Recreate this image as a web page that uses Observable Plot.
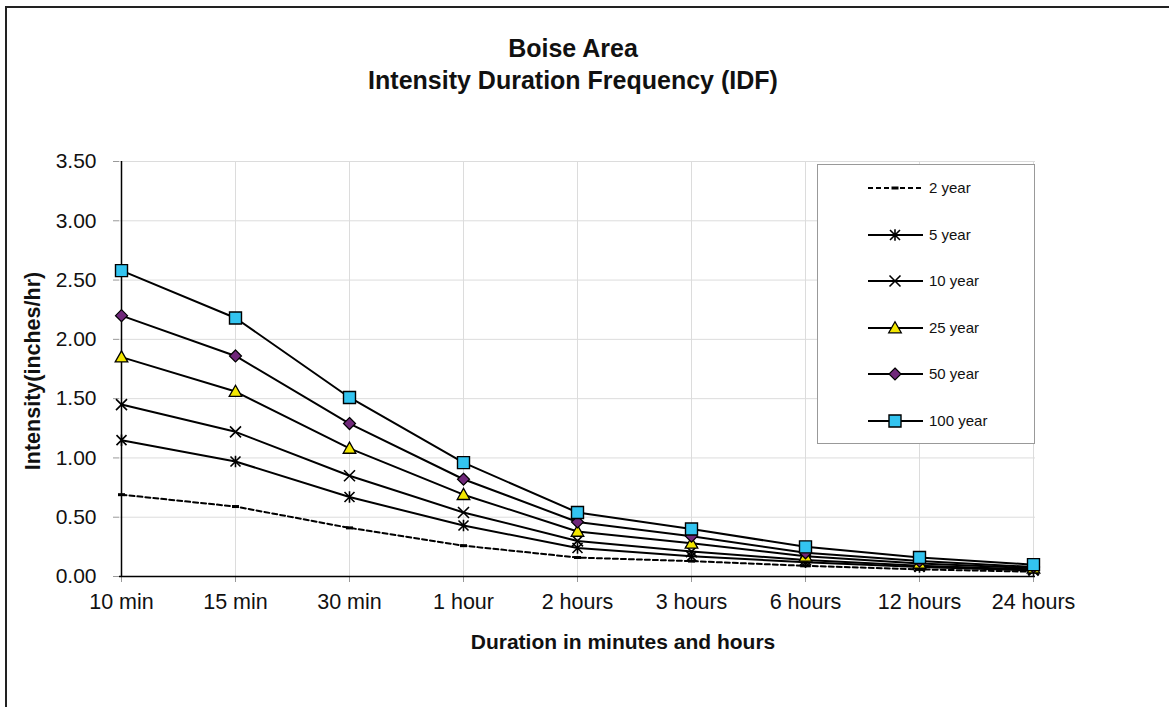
<!DOCTYPE html>
<html><head><meta charset="utf-8">
<script src="https://cdn.jsdelivr.net/npm/d3@7"></script>
<script src="https://cdn.jsdelivr.net/npm/@observablehq/plot@0.6"></script>
<style>
body{margin:0;background:#fff;font-family:"Liberation Sans",Arial,sans-serif;color:#111;}
#wrap{position:relative;width:1169px;height:707px;overflow:hidden;background:#fff;}
#frame{position:absolute;left:5px;top:6px;width:1200px;height:760px;border-top:2px solid #222;border-left:2px solid #222;}
#chart{position:absolute;left:0;top:0;}
.t{position:absolute;transform:translate(-50%,-50%);white-space:nowrap;font-weight:bold;}
#legend{position:absolute;left:817px;top:164px;width:216px;height:278px;border:1px solid #999;background:#fff;}
.lrow{position:absolute;left:0;width:216px;height:24px;}
.lrow svg{position:absolute;left:49px;top:0;}
.lrow span{position:absolute;left:111px;top:3px;font-size:15px;}
</style></head><body>
<div id="wrap">
  <div id="frame"></div>
  <div id="chart"></div>
  <div class="t" style="left:573px;top:48px;font-size:25px;">Boise Area</div>
  <div class="t" style="left:573px;top:80px;font-size:25px;">Intensity Duration Frequency (IDF)</div>
  <div class="t" style="left:623px;top:642px;font-size:21px;">Duration in minutes and hours</div>
  <div class="t" style="left:33px;top:371px;font-size:21.5px;transform:translate(-50%,-50%) rotate(-90deg);">Intensity(inches/hr)</div>
  <div id="legend"></div>
</div>
<script>
const categories = ["10 min","15 min","30 min","1 hour","2 hours","3 hours","6 hours","12 hours","24 hours"];
const seriesNames = ["2 year","5 year","10 year","25 year","50 year","100 year"];
const y2   = [0.69,0.59,0.41,0.26,0.16,0.13,0.09,0.06,0.04];
const y5   = [1.15,0.97,0.67,0.43,0.24,0.17,0.12,0.08,0.05];
const y10  = [1.45,1.22,0.85,0.54,0.30,0.21,0.14,0.09,0.06];
const y25  = [1.85,1.56,1.08,0.69,0.38,0.28,0.17,0.11,0.07];
const y50  = [2.20,1.86,1.29,0.82,0.46,0.34,0.20,0.13,0.08];
const y100 = [2.58,2.18,1.51,0.96,0.54,0.40,0.25,0.16,0.10];
const yTicks = [0,0.5,1,1.5,2,2.5,3,3.5];

const values = [y2,y5,y10,y25,y50,y100];
const table = [];
seriesNames.forEach((s,i)=>categories.forEach((c,j)=>table.push({series:s,cat:c,v:values[i][j]})));

const R = s => Math.sqrt(s/Math.PI);
const symDash = {draw(ctx,s){ctx.rect(-3.5,-1.5,7,3);}};
const symStar = {draw(ctx,s){const r=R(s);ctx.moveTo(-r,-r);ctx.lineTo(r,r);ctx.moveTo(-r,r);ctx.lineTo(r,-r);ctx.moveTo(0,-r*1.15);ctx.lineTo(0,r*1.15);}};
const symTimes = {draw(ctx,s){const r=R(s);ctx.moveTo(-r,-r);ctx.lineTo(r,r);ctx.moveTo(-r,r);ctx.lineTo(r,-r);}};
const symTri = {draw(ctx,s){const r=R(s);ctx.moveTo(0,-r*1.05);ctx.lineTo(r*1.05,r*0.8);ctx.lineTo(-r*1.05,r*0.8);ctx.closePath();}};
const symDia = {draw(ctx,s){const r=R(s);ctx.moveTo(0,-r);ctx.lineTo(r,0);ctx.lineTo(0,r);ctx.lineTo(-r,0);ctx.closePath();}};
const symSq = {draw(ctx,s){const r=R(s);ctx.rect(-r,-r,2*r,2*r);}};

const styles = {
  "2 year":  {sym:symDash, r:3, fill:"#000", stroke:"none", sw:0, dash:"5,3"},
  "5 year":  {sym:symStar, r:5, fill:"none", stroke:"#000", sw:1.6, dash:null},
  "10 year": {sym:symTimes, r:5.5, fill:"none", stroke:"#000", sw:1.6, dash:null},
  "25 year": {sym:symTri, r:6, fill:"#f2e600", stroke:"#000", sw:1.3, dash:null},
  "50 year": {sym:symDia, r:6, fill:"#70287a", stroke:"#000", sw:1.2, dash:null},
  "100 year":{sym:symSq, r:6, fill:"#33c4f0", stroke:"#000", sw:1.4, dash:null}
};

const marks = [
  Plot.gridY(yTicks.slice(1), {stroke:"#dcdcdc", strokeOpacity:1}),
  Plot.gridX(categories.slice(1), {stroke:"#dcdcdc", strokeOpacity:1}),
  Plot.axisY({ticks: yTicks, tickFormat: d3.format(".2f"), tickSize: 6, tickPadding: 17, stroke:"#999", fill:"#111", label:null}),
  Plot.axisX({tickSize: 6, tickPadding: 11, stroke:"#999", fill:"#111", label:null, fontSize: 21.5}),
  Plot.ruleY([0], {stroke:"#000", strokeWidth:1.5}),
  Plot.ruleX([categories[0]], {y1:0, y2:3.5, stroke:"#000", strokeWidth:1.5})
];
seriesNames.forEach(s=>{
  const st = styles[s];
  const d = table.filter(t=>t.series===s);
  marks.push(Plot.line(d, {x:"cat", y:"v", stroke:"#000", strokeWidth:2, strokeDasharray: st.dash || undefined}));
  marks.push(Plot.dot(d, {x:"cat", y:"v", symbol: st.sym, r: st.r, fill: st.fill, stroke: st.stroke, strokeWidth: st.sw}));
});

const chart = Plot.plot({
  width:1169, height:707,
  marginLeft:119, marginRight:134, marginTop:161, marginBottom:131,
  style:{fontFamily:"'Liberation Sans', Arial, sans-serif", fontSize:"21px", background:"transparent", overflow:"visible"},
  x:{type:"point", domain:categories, padding:0},
  y:{domain:[0,3.5]},
  marks
});
document.getElementById("chart").appendChild(chart);

const leg = document.getElementById("legend");
seriesNames.forEach((s,i)=>{
  const st = styles[s];
  const row = document.createElement("div");
  row.className = "lrow";
  row.style.top = (23 + i*46.6 - 12) + "px";
  const path = d3.symbol(st.sym, Math.PI*st.r*st.r)();
  row.innerHTML = `<svg width="58" height="24"><line x1="1" x2="56" y1="12" y2="12" stroke="#000" stroke-width="2" ${st.dash?`stroke-dasharray="${st.dash}"`:""}/>`+
    `<path transform="translate(28,12)" d="${path}" fill="${st.fill}" stroke="${st.stroke}" stroke-width="${st.sw}"/></svg><span>${s}</span>`;
  leg.appendChild(row);
});
</script>
</body></html>
